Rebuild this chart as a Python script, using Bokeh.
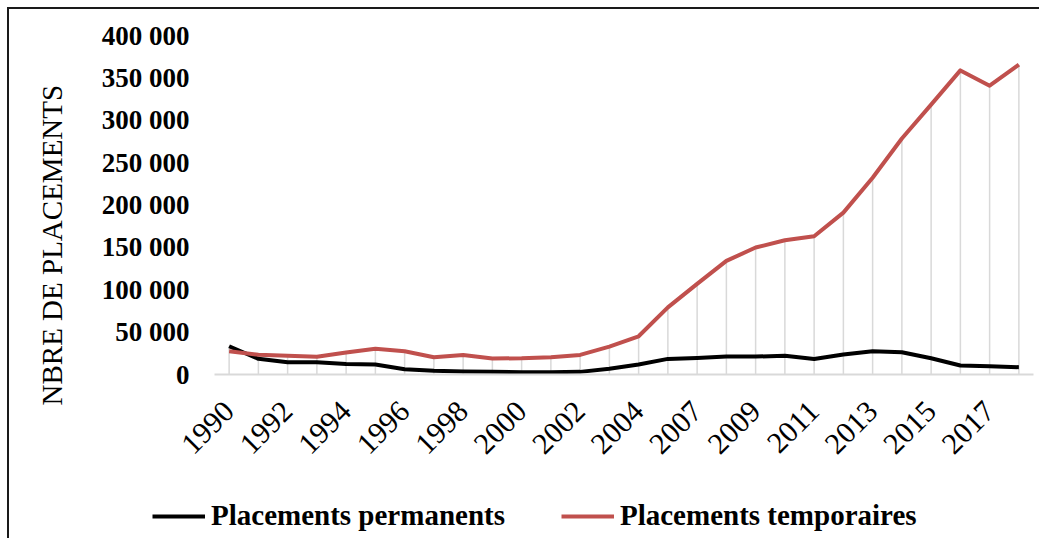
import math
from bokeh.plotting import figure
from bokeh.models import (Range1d, FixedTicker, Title, Legend, LegendItem, ColumnDataSource)
from bokeh.embed import file_html
from bokeh.resources import INLINE

years = ["1990", "1991", "1992", "1993", "1994", "1995", "1996", "1997", "1998", "1999",
         "2000", "2001", "2002", "2003", "2004", "2006", "2007", "2008", "2009", "2010",
         "2011", "2012", "2013", "2014", "2015", "2016", "2017", "2018"]
permanents = [33300, 18500, 14500, 14500, 12500, 11700, 6200, 4300, 3500, 3100,
              2700, 2700, 3100, 6700, 11800, 18400, 19600, 21200, 21200, 22000,
              18400, 23500, 27400, 26300, 19200, 10600, 9800, 8600]
temporaires = [27400, 23200, 22000, 21000, 26000, 30500, 27400, 20300, 23100, 18800,
               19200, 20400, 23100, 32900, 45100, 79200, 107000, 134100, 149800, 158400,
               163100, 191000, 232100, 278400, 318400, 358800, 340800, 365500]
y_ticks = [0, 50000, 100000, 150000, 200000, 250000, 300000, 350000, 400000]
y_tick_labels = ["0", "50 000", "100 000", "150 000", "200 000", "250 000",
                 "300 000", "350 000", "400 000"]
series_names = ["Placements permanents", "Placements temporaires"]
y_title = "NBRE DE PLACEMENTS"

idx = list(range(len(years)))
src = ColumnDataSource(dict(x=idx, perm=permanents, temp=temporaires,
                            top=[max(a, b) for a, b in zip(permanents, temporaires)],
                            zero=[0] * len(years)))

FONT = "Liberation Serif"
BLACK = "black"
RED = "#C0504D"
BORDER = "#1a1a1a"

W = 1039
H_MAIN = 468
H_LEG = 70

p = figure(width=W, height=H_MAIN, output_backend="svg", toolbar_location=None,
           x_range=Range1d(-0.5, len(years) - 0.5), y_range=Range1d(0, 400000),
           min_border_left=214, min_border_right=6, min_border_top=35, min_border_bottom=94)
p.styles = {
    "background-image": f"linear-gradient({BORDER}, {BORDER}), linear-gradient({BORDER}, {BORDER})",
    "background-size": "2px 100%, 100% 2px",
    "background-position": "7px 7px, 7px 7px",
    "background-repeat": "no-repeat",
}
p.outline_line_color = None
p.xgrid.grid_line_color = None
p.ygrid.grid_line_color = None
p.background_fill_color = "white"
p.border_fill_color = None

# drop lines
p.segment(x0="x", y0="zero", x1="x", y1="top", source=src, line_color="#D9D9D9", line_width=1.5)

p.line("x", "perm", source=src, line_color=BLACK, line_width=4, line_join="round")
p.line("x", "temp", source=src, line_color=RED, line_width=4, line_join="round")

# x axis
xa = p.xaxis[0]
xa.ticker = FixedTicker(ticks=idx[::2])
xa.major_label_overrides = {i: years[i] for i in idx}
xa.major_label_orientation = math.pi / 4
xa.major_tick_line_color = None
xa.minor_tick_line_color = None
xa.axis_line_color = "#D9D9D9"
xa.axis_line_width = 2
xa.major_label_text_font = FONT
xa.major_label_text_font_size = "30px"
xa.major_label_text_color = "black"
xa.major_label_standoff = 26

# y axis
ya = p.yaxis[0]
ya.ticker = FixedTicker(ticks=y_ticks)
ya.major_label_overrides = {t: l for t, l in zip(y_ticks, y_tick_labels)}
ya.major_tick_line_color = None
ya.minor_tick_line_color = None
ya.axis_line_color = None
ya.major_label_text_font = FONT
ya.major_label_text_font_style = "bold"
ya.major_label_text_font_size = "27px"
ya.major_label_text_color = "black"
ya.major_label_standoff = 19

# y axis title
p.add_layout(Title(text=y_title, align="left", offset=-31, standoff=62,
                   text_font=FONT, text_font_style="normal", text_font_size="29px",
                   text_color="black"), "left")

# legend strip (separate root so its frame spans the full width)
pl = figure(width=W, height=H_LEG, output_backend="svg", toolbar_location=None,
            x_range=Range1d(0, W), y_range=Range1d(0, H_LEG),
            x_axis_location=None, y_axis_location=None,
            min_border=0, min_border_left=0, min_border_right=0,
            min_border_top=0, min_border_bottom=0)
pl.styles = {
    "background-image": f"linear-gradient({BORDER}, {BORDER})",
    "background-size": "2px 100%",
    "background-position": "7px 0px",
    "background-repeat": "no-repeat",
}
pl.outline_line_color = None
pl.xgrid.grid_line_color = None
pl.ygrid.grid_line_color = None
pl.background_fill_color = None
pl.border_fill_color = None
l1 = pl.line(idx, permanents, line_color=BLACK, line_width=4, visible=False)
l2 = pl.line(idx, temporaires, line_color=RED, line_width=4, visible=False)

legend = Legend(items=[LegendItem(label=series_names[0], renderers=[l1]),
                       LegendItem(label=series_names[1], renderers=[l2])],
                location=(152, 6), orientation="horizontal",
                glyph_width=53, glyph_height=20, label_standoff=6, spacing=56,
                padding=0, margin=0, border_line_color=None, background_fill_alpha=0,
                inactive_fill_alpha=0,
                label_text_font=FONT, label_text_font_style="bold",
                label_text_font_size="29px", label_text_color="black")
pl.add_layout(legend, "center")

open("out.html", "w").write(file_html([p, pl], INLINE))
